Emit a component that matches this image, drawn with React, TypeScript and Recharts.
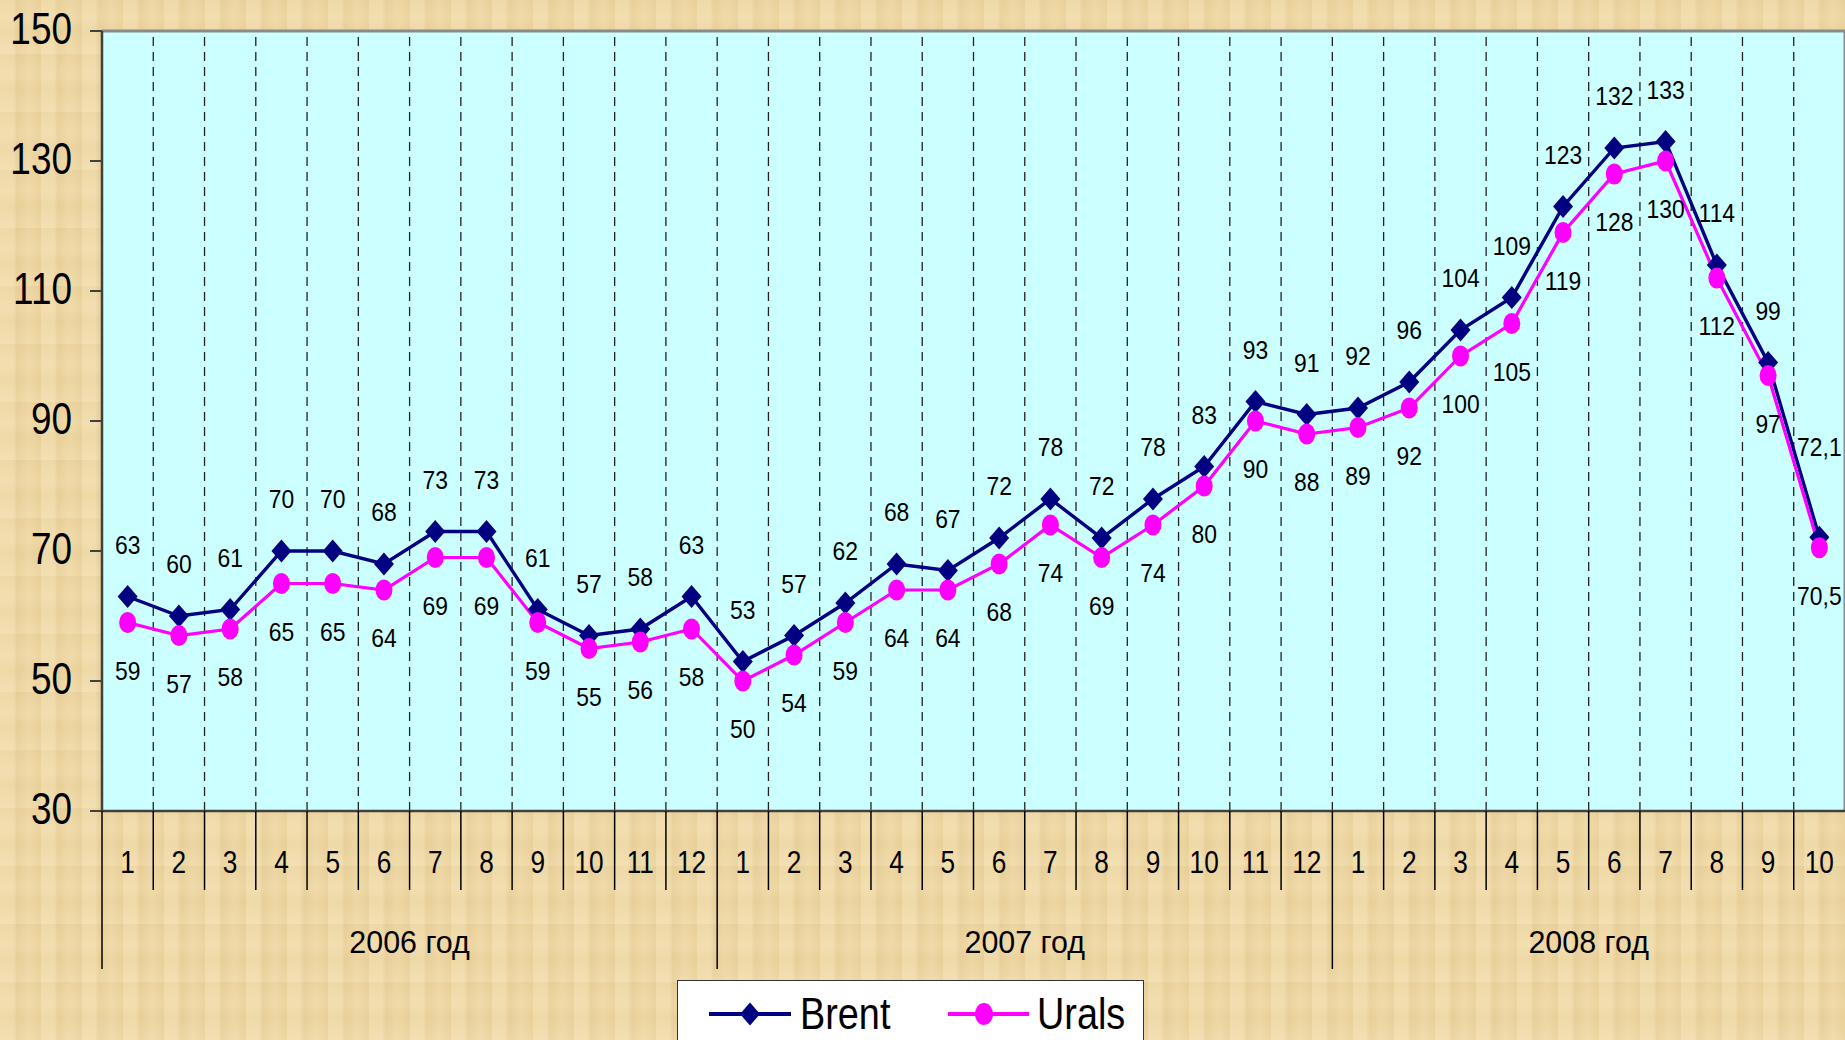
import React from 'react';
import { LineChart, Line, XAxis, YAxis, CartesianGrid, ReferenceLine, LabelList, Legend } from 'recharts';

const FONT = '"Liberation Sans", Arial, sans-serif';

const years = ['2006 год', '2007 год', '2008 год'];
const monthsPerYear = [12, 12, 10];
const monthLabels = [
  '1', '2', '3', '4', '5', '6', '7', '8', '9', '10', '11', '12',
  '1', '2', '3', '4', '5', '6', '7', '8', '9', '10', '11', '12',
  '1', '2', '3', '4', '5', '6', '7', '8', '9', '10',
];
const brent = [
  63, 60, 61, 70, 70, 68, 73, 73, 61, 57, 58, 63,
  53, 57, 62, 68, 67, 72, 78, 72, 78, 83, 93, 91,
  92, 96, 104, 109, 123, 132, 133, 114, 99, 72.1,
];
const urals = [
  59, 57, 58, 65, 65, 64, 69, 69, 59, 55, 56, 58,
  50, 54, 59, 64, 64, 68, 74, 69, 74, 80, 90, 88,
  89, 92, 100, 105, 119, 128, 130, 112, 97, 70.5,
];
const yTicks = [30, 50, 70, 90, 110, 130, 150];

const N = monthLabels.length;
const data = monthLabels.map((m, i) => ({ x: i + 0.5, month: m, brent: brent[i], urals: urals[i] }));

const yearStarts: number[] = [];
const yearCenters: number[] = [];
{
  let acc = 0;
  monthsPerYear.forEach((n) => {
    yearStarts.push(acc);
    yearCenters.push(acc + n / 2);
    acc += n;
  });
}
const xTicks = Array.from({ length: 2 * N + 1 }, (_, k) => k / 2);
const boundaries = Array.from({ length: N - 1 }, (_, k) => k + 1);

const fmt = (v: any) => String(v).replace('.', ',');

// horizontally condensed text (the original uses a narrow face)
const NText = ({ x, y, anchor = 'middle', size, sx = 0.82, children }: any) => (
  <g transform={`translate(${x},${y}) scale(${sx},1)`}>
    <text x={0} y={0} textAnchor={anchor} dominantBaseline="central" fontSize={size} fontFamily={FONT} fill="#000">
      {children}
    </text>
  </g>
);

const XTick = (props: any) => {
  const { x, y, payload } = props;
  const v = payload.value;
  if (Number.isInteger(v)) {
    const isYear = yearStarts.includes(v);
    const yi = yearCenters.indexOf(v);
    return (
      <g>
        {v < N && (
          <line x1={x} x2={x} y1={y} y2={y + (isYear ? 158 : 79)} stroke="#000" strokeWidth={1.5} />
        )}
        {yi >= 0 && (
          <NText x={x} y={y + 131} size={32} sx={0.95}>
            {years[yi]}
          </NText>
        )}
      </g>
    );
  }
  const idx = Math.floor(v);
  return (
    <NText x={x} y={y + 51} size={32} sx={0.82}>
      {monthLabels[idx]}
    </NText>
  );
};

const YTick = (props: any) => {
  const { x, y, payload } = props;
  return (
    <NText x={x} y={y - 2} anchor="end" size={44} sx={0.84}>
      {payload.value}
    </NText>
  );
};

const makeLabel = (dy: number, lastDy: number) => (props: any) => {
  const vb = props.viewBox || {};
  const cx = (vb.x ?? props.x) + (vb.width ?? 0) / 2;
  const cy = (vb.y ?? props.y) + (vb.height ?? 0) / 2;
  if (cx == null || isNaN(cx) || cy == null || isNaN(cy)) return null;
  const d = props.index === N - 1 ? lastDy : dy;
  return (
    <NText key={`l${dy}-${props.index}`} x={cx} y={cy + d} size={26} sx={0.88}>
      {fmt(props.value)}
    </NText>
  );
};
const BrentLabel = makeLabel(-52, -90);
const UralsLabel = makeLabel(48, 48);

const Diamond = (props: any) => {
  const { cx, cy, index } = props;
  if (cx == null || cy == null) return <g key={`d${index}`} />;
  return (
    <polygon
      key={`d${index}`}
      points={`${cx},${cy - 11.5} ${cx + 10},${cy} ${cx},${cy + 11.5} ${cx - 10},${cy}`}
      fill="#000080"
    />
  );
};

const Ellipse = (props: any) => {
  const { cx, cy, index } = props;
  if (cx == null || cy == null) return <g key={`e${index}`} />;
  return <ellipse key={`e${index}`} cx={cx} cy={cy} rx={8.5} ry={10.5} fill="#FF00FF" />;
};

const LegendBox = () => (
  <div
    style={{
      position: 'relative',
      width: 467,
      height: 80,
      background: '#fff',
      border: '1.5px solid #333',
      boxSizing: 'border-box',
    }}
  >
    <svg width={467} height={80} style={{ position: 'absolute', left: 0, top: 0 }}>
      <line x1={31} x2={113} y1={33} y2={33} stroke="#000080" strokeWidth={4} />
      <polygon points="72,21.5 82,33 72,44.5 62,33" fill="#000080" />
      <NText x={122} y={33} anchor="start" size={44} sx={0.86}>Brent</NText>
      <line x1={270} x2={351} y1={33} y2={33} stroke="#FF00FF" strokeWidth={4} />
      <ellipse cx={306} cy={33} rx={9} ry={11} fill="#FF00FF" />
      <NText x={359} y={33} anchor="start" size={44} sx={0.86}>Urals</NText>
    </svg>
  </div>
);

export default function App() {
  return (
    <div
      style={{
        position: 'absolute',
        left: 0,
        top: 0,
        width: 1845,
        height: 1040,
        overflow: 'hidden',
        backgroundColor: '#ECD5A2',
        backgroundImage:
          'repeating-linear-gradient(90deg, rgba(255,240,205,0.22) 0px, rgba(255,240,205,0.22) 13px, rgba(205,175,105,0.12) 17px, rgba(255,238,195,0.1) 29px, rgba(215,185,115,0.14) 41px), repeating-linear-gradient(0deg, rgba(255,245,215,0.18) 0px, rgba(220,190,125,0.11) 23px, rgba(255,240,205,0.14) 37px, rgba(210,180,110,0.1) 58px)',
      }}
    >
      <LineChart width={1845} height={1040} data={data} margin={{ top: 31, right: 0, left: 0, bottom: 0 }}>
        <CartesianGrid horizontal={false} vertical={false} fill="#CCFFFF" fillOpacity={1} />
        {boundaries.map((b) => (
          <ReferenceLine key={b} x={b} stroke="#222" strokeWidth={1.3} strokeDasharray="9 6" />
        ))}
        <ReferenceLine y={150} stroke="#8a8a8a" strokeWidth={3} />
        <ReferenceLine x={N} stroke="#8a8a8a" strokeWidth={3} />
        <XAxis
          dataKey="x"
          type="number"
          domain={[0, N]}
          ticks={xTicks}
          interval={0}
          tick={(p: any) => <XTick {...p} />}
          tickLine={false}
          tickSize={0}
          tickMargin={0}
          height={229}
          axisLine={{ stroke: '#404040', strokeWidth: 2.5 }}
          allowDecimals
        />
        <YAxis
          type="number"
          domain={[30, 150]}
          ticks={yTicks}
          interval={0}
          width={102}
          tickSize={12}
          tickMargin={18}
          tickLine={{ stroke: '#404040', strokeWidth: 2 }}
          axisLine={{ stroke: '#404040', strokeWidth: 2.5 }}
          tick={(p: any) => <YTick {...p} />}
        />
        <Legend
          layout="vertical"
          align="center"
          verticalAlign="middle"
          wrapperStyle={{ left: 677, top: 980, width: 467, height: 80 }}
          content={() => <LegendBox />}
        />
        <Line
          type="linear"
          dataKey="brent"
          stroke="#000080"
          strokeWidth={3.4}
          dot={(p: any) => <Diamond {...p} />}
          activeDot={false}
          isAnimationActive={false}
        >
          <LabelList dataKey="brent" content={BrentLabel} />
        </Line>
        <Line
          type="linear"
          dataKey="urals"
          stroke="#FF00FF"
          strokeWidth={3.2}
          dot={(p: any) => <Ellipse {...p} />}
          activeDot={false}
          isAnimationActive={false}
        >
          <LabelList dataKey="urals" content={UralsLabel} />
        </Line>
      </LineChart>
    </div>
  );
}
